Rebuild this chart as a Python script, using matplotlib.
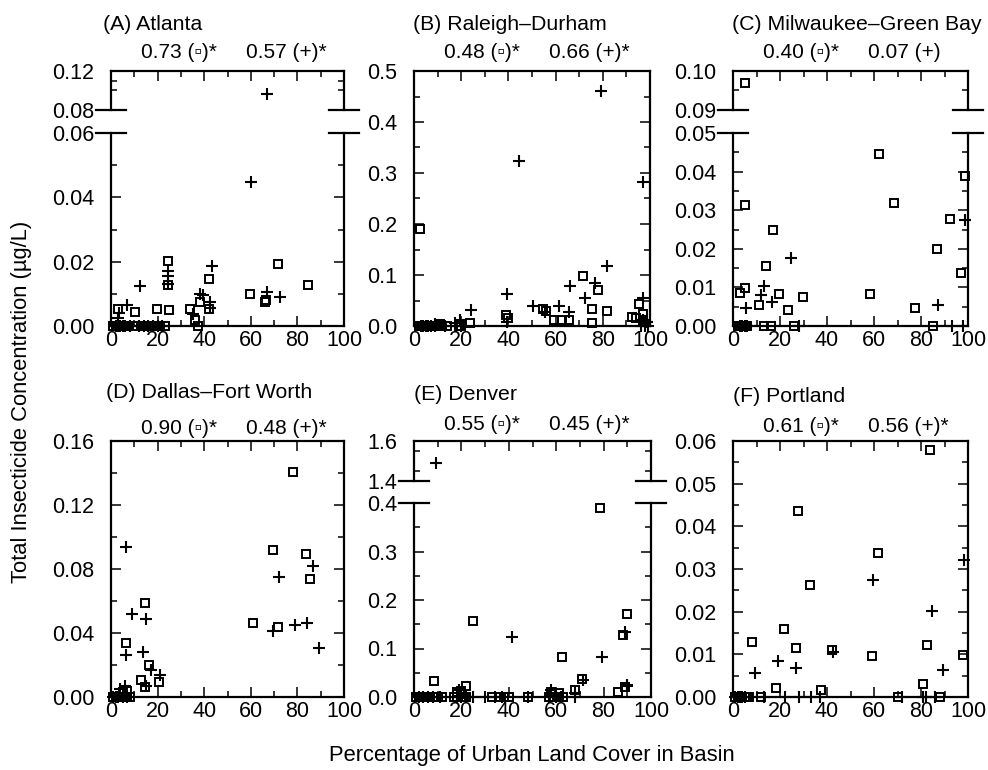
#Urban land cover vs. total insecticide concentration, six study areas
import matplotlib
matplotlib.use('Agg')
import matplotlib.pyplot as plt
from matplotlib import font_manager
from matplotlib.ticker import MultipleLocator, FixedLocator, FormatStrFormatter

TEXT_FONT = ['Liberation Sans', 'DejaVu Sans']
installed = {f.name for f in font_manager.fontManager.ttflist}
#narrow digits for the tick labels if the font is there
if 'Liberation Sans Narrow' in installed:
    TICK_FONT = ['Liberation Sans Narrow', 'DejaVu Sans']
else:
    TICK_FONT = TEXT_FONT
plt.rcParams['font.family'] = TEXT_FONT

#(A) Atlanta
atl_sq_x = [1, 2, 3, 4, 5, 6, 7, 11, 13, 15, 17, 19, 21, 23, 37.5, 36,
            2.9, 10.4, 19.7, 24.7, 34, 24.3, 24.3, 42.1, 38.2, 42.1, 59.6, 66, 66.5, 71.8, 84.6]
atl_sq_y = [0, 0, 0, 0, 0, 0, 0, 0, 0, 0, 0, 0, 0, 0, 0, 0.002,
            0.0054, 0.0044, 0.0054, 0.0051, 0.0054, 0.0202, 0.0126, 0.0147, 0.0075, 0.0054,
            0.0100, 0.0075, 0.0080, 0.0194, 0.0126]
atl_pl_x = [2, 3, 4, 5, 6, 8, 12, 14, 16, 18, 20, 22,
            66.8, 60.3, 12.6, 24.3, 24.3, 24.5, 43.2, 38.2, 39.5, 72.5, 66.8, 6.8, 3.3, 35.4, 42.5, 42.5, 3]
atl_pl_y = [0, 0, 0, 0, 0, 0, 0, 0, 0, 0, 0, 0,
            0.096, 0.0448, 0.0123, 0.0171, 0.0155, 0.013, 0.0185, 0.0100, 0.0095, 0.009, 0.0105,
            0.0064, 0.004, 0.0038, 0.0075, 0.0055, 0.0025]

#(B) Raleigh-Durham
ral_sq_x = [2, 3, 4, 5, 6, 7, 8, 10, 12, 14, 19, 20,
            2.4, 38.8, 54.5, 71.4, 78.1, 75.5, 81.6, 59.4, 62.5, 65.8, 23.6, 75.5, 92.2, 95.5,
            96.9, 97.2, 94, 40, 11, 56]
ral_sq_y = [0, 0, 0, 0, 0, 0, 0, 0, 0, 0, 0, 0,
            0.19, 0.021, 0.034, 0.099, 0.071, 0.034, 0.029, 0.012, 0.012, 0.012, 0.006, 0.006,
            0.018, 0.043, 0.024, 0.011, 0.015, 0.015, 0.004, 0.03]
ral_pl_x = [3, 4, 5, 6, 7, 9, 13, 18, 20, 96, 98, 99,
            79.1, 44.4, 97.2, 81.9, 39.2, 66.3, 72.4, 76.7, 24.3, 50.5, 55.4, 65.8, 96.9, 96.9,
            98.6, 19.4, 39.2, 17.5, 9, 61.5]
ral_pl_y = [0, 0, 0, 0, 0, 0, 0, 0, 0, 0, 0, 0,
            0.461, 0.323, 0.282, 0.118, 0.062, 0.078, 0.055, 0.084, 0.031, 0.039, 0.027, 0.027,
            0.054, 0.011, 0.008, 0.011, 0.008, 0.006, 0.004, 0.039]

#(C) Milwaukee-Green Bay
mil_sq_x = [2, 3, 4, 5, 6, 13, 16, 26, 85,
            5.3, 5, 2.8, 5, 17.1, 14.2, 11.1, 19.6, 23.6, 29.9, 62.2, 68.6, 58.3, 77.5, 86.8,
            92.2, 98.6, 97.2]
mil_sq_y = [0, 0, 0, 0, 0, 0, 0, 0, 0,
            0.0968, 0.0313, 0.0085, 0.0099, 0.0248, 0.0155, 0.0054, 0.0084, 0.0041, 0.0075,
            0.0445, 0.0319, 0.0082, 0.0047, 0.020, 0.0276, 0.0389, 0.0138]
mil_pl_x = [3, 4, 5, 6, 28, 93, 98,
            24.5, 13.4, 11.8, 16.4, 5.4, 87.2, 98.9]
mil_pl_y = [0, 0, 0, 0, 0, 0, 0,
            0.0177, 0.0103, 0.008, 0.0062, 0.0047, 0.0054, 0.0274]

#(D) Dallas-Fort Worth
dal_sq_x = [1, 2, 3, 4, 6, 7, 8, 5, 7,
            78.2, 69.6, 83.5, 85.6, 60.8, 71.8, 14.7, 6.4, 16.5, 12.8, 20.4, 14.7]
dal_sq_y = [0, 0, 0, 0, 0, 0, 0, 0.003, 0.004,
            0.1406, 0.0917, 0.0892, 0.074, 0.0465, 0.0437, 0.059, 0.034, 0.0198, 0.0104,
            0.0094, 0.0063]
dal_pl_x = [1, 2, 3, 5, 7, 4, 6,
            6.6, 72, 86.7, 78.9, 84.2, 69.6, 89.3, 9, 15.1, 6.6, 13.7, 17.1, 21.1, 15.1]
dal_pl_y = [0, 0, 0, 0, 0, 0.005, 0.007,
            0.094, 0.075, 0.082, 0.0448, 0.0465, 0.0412, 0.0306, 0.052, 0.049, 0.0265, 0.028,
            0.0167, 0.0135, 0.0067]

#(E) Denver
den_sq_x = [1, 2, 3, 4, 5, 6, 8, 10, 12, 17, 18, 20, 21, 22, 33, 36, 38, 40, 48, 57, 59,
            61, 63,
            78.5, 24.9, 89.7, 88.3, 62.5, 8.3, 22.1, 70.8, 67.9, 86.2, 89, 18, 20, 58, 61]
den_sq_y = [0, 0, 0, 0, 0, 0, 0, 0, 0, 0, 0, 0, 0, 0, 0, 0, 0, 0, 0, 0, 0, 0, 0,
            0.39, 0.156, 0.171, 0.1275, 0.083, 0.0326, 0.022, 0.038, 0.015, 0.0104, 0.02,
            0.01, 0.012, 0.01, 0.008]
den_pl_x = [2, 4, 6, 8, 11, 18, 20, 22, 25, 30, 34, 37, 48, 57, 60, 62, 68,
            9.2, 41.5, 79.2, 89, 89.7, 71.4, 67.9, 19, 21, 58, 90]
den_pl_y = [0, 0, 0, 0, 0, 0, 0, 0, 0, 0, 0, 0, 0, 0, 0, 0, 0,
            1.491, 0.1227, 0.083, 0.135, 0.022, 0.036, 0.008, 0.015, 0.008, 0.014, 0.025]

#(F) Portland
por_sq_x = [1, 2, 3, 4, 5, 6, 7, 12, 70, 88,
            83.9, 27.7, 61.5, 32.7, 21.6, 8.1, 26.6, 42, 59, 82.5, 97.7, 18.5, 37.3, 80.8]
por_sq_y = [0, 0, 0, 0, 0, 0, 0, 0, 0, 0,
            0.058, 0.0437, 0.0337, 0.0262, 0.0159, 0.0128, 0.0116, 0.011, 0.0095, 0.0121,
            0.0098, 0.0022, 0.0016, 0.0031]
por_pl_x = [1, 2, 3, 4, 5, 13, 22, 28, 33, 37, 72, 81, 82, 86,
            98.2, 59.7, 84.6, 19.2, 27, 42.7, 9.2, 89.3]
por_pl_y = [0, 0, 0, 0, 0, 0, 0, 0, 0, 0, 0, 0, 0, 0,
            0.032, 0.0275, 0.0202, 0.0085, 0.0067, 0.0106, 0.0057, 0.0063]

titles = ['(A) Atlanta', '(B) Raleigh\u2013Durham', '(C) Milwaukee\u2013Green Bay',
          '(D) Dallas\u2013Fort Worth', '(E) Denver', '(F) Portland']
sq_stats = ['0.73 (\u25ab)*', '0.48 (\u25ab)*', '0.40 (\u25ab)*',
            '0.90 (\u25ab)*', '0.55 (\u25ab)*', '0.61 (\u25ab)*']
pl_stats = ['0.57 (+)*', '0.66 (+)*', '0.07 (+)',
            '0.48 (+)*', '0.45 (+)*', '0.56 (+)*']

W, H = 988, 770
fig = plt.figure(figsize=(W / 100, H / 100), dpi=100)


def new_ax(l, r, t, b):
    return fig.add_axes([l / W, 1 - b / H, (r - l) / W, (b - t) / H])


def style(ax, top=True, bottom=True):
    for s in ax.spines.values():
        s.set_linewidth(1.6)
    ax.spines['top'].set_visible(top)
    ax.spines['bottom'].set_visible(bottom)
    ax.set_xlim(0, 100)
    ax.xaxis.set_major_locator(MultipleLocator(20))
    ax.xaxis.set_minor_locator(MultipleLocator(10))
    ax.tick_params(which='both', direction='in', left=True, right=True,
                   top=top, bottom=bottom, labelbottom=bottom, width=1.1,
                   labelsize=15.5, labelfontfamily=TICK_FONT)
    ax.tick_params(which='major', length=7)
    ax.tick_params(which='minor', length=4.5)
    ax.tick_params(axis='y', pad=12)
    ax.tick_params(axis='x', pad=3)


def scatter(ax, xs, ys, lo, hi, marker):
    px = [x for x, y in zip(xs, ys) if lo <= y <= hi]
    py = [y for x, y in zip(xs, ys) if lo <= y <= hi]
    if marker == 's':
        ax.plot(px, py, 's', ms=5.4, mfc='none', mec='k', mew=1.4, clip_on=False)
    else:
        ax.plot(px, py, '+', ms=8.5, mec='k', mew=1.5, clip_on=False)


def break_marks(ax, y, width_px):
    d = 15 / width_px
    for x0 in (0, 1):
        ax.plot([x0 - d, x0 + d], [y, y], color='k', lw=1.6,
                transform=ax.transAxes, clip_on=False)


# panel layout in pixels: box = left, right, top, bottom
panels = [
    dict(box=(111, 344, 71, 326), brk=(110, 133), up=(0.08, 0.12), lo=(0, 0.06),
         up_minor=[0.10, 0.11], maj=0.02, mnr=0.01, fmt='%.2f',
         data=(atl_sq_x, atl_sq_y, atl_pl_x, atl_pl_y), tpos=(103, 25), spos=53),
    dict(box=(414, 650, 71, 326), lo=(0, 0.5), maj=0.1, mnr=0.05, fmt='%.1f',
         data=(ral_sq_x, ral_sq_y, ral_pl_x, ral_pl_y), tpos=(413, 25), spos=53),
    dict(box=(733, 968, 71, 326), brk=(110, 133), up=(0.09, 0.10), lo=(0, 0.05),
         up_minor=[0.095], maj=0.01, mnr=0.005, fmt='%.2f',
         data=(mil_sq_x, mil_sq_y, mil_pl_x, mil_pl_y), tpos=(732, 25), spos=53),
    dict(box=(111, 344, 441, 697), lo=(0, 0.16), maj=0.04, mnr=0.02, fmt='%.2f',
         data=(dal_sq_x, dal_sq_y, dal_pl_x, dal_pl_y), tpos=(106, 393), spos=429),
    dict(box=(414, 651, 441, 697), brk=(481, 503), up=(1.4, 1.6), lo=(0, 0.4),
         up_minor=[1.45, 1.55], maj=0.1, mnr=0.05, fmt='%.1f',
         data=(den_sq_x, den_sq_y, den_pl_x, den_pl_y), tpos=(414, 395), spos=425),
    dict(box=(733, 968, 441, 697), lo=(0, 0.06), maj=0.01, mnr=0.005, fmt='%.2f',
         data=(por_sq_x, por_sq_y, por_pl_x, por_pl_y), tpos=(733, 397), spos=427),
]

for i, p in enumerate(panels):
    l, r, t, b = p['box']
    sx, sy, qx, qy = p['data']
    lo0, lo1 = p['lo']
    if 'brk' in p:
        b1, t2 = p['brk']
        ax_u = new_ax(l, r, t, b1)
        ax_l = new_ax(l, r, t2, b)
        # upper part of the broken axis
        style(ax_u, top=True, bottom=False)
        ax_u.set_ylim(*p['up'])
        ax_u.yaxis.set_major_locator(FixedLocator(list(p['up'])))
        ax_u.yaxis.set_minor_locator(FixedLocator(p['up_minor']))
        ax_u.yaxis.set_major_formatter(FormatStrFormatter(p['fmt']))
        ax_u.tick_params(axis='y', which='major', length=0)
        scatter(ax_u, sx, sy, p['up'][0], p['up'][1], 's')
        scatter(ax_u, qx, qy, p['up'][0], p['up'][1], '+')
        break_marks(ax_u, 0, r - l)
        # lower part
        ax = ax_l
        style(ax, top=False, bottom=True)
        break_marks(ax, 1, r - l)
    else:
        ax = new_ax(l, r, t, b)
        style(ax)
    ax.set_ylim(lo0, lo1)
    ax.yaxis.set_major_locator(MultipleLocator(p['maj']))
    ax.yaxis.set_minor_locator(MultipleLocator(p['mnr']))
    ax.yaxis.set_major_formatter(FormatStrFormatter(p['fmt']))
    scatter(ax, sx, sy, lo0, lo1, 's')
    scatter(ax, qx, qy, lo0, lo1, '+')

    tx, ty = p['tpos']
    fig.text(tx / W, 1 - ty / H, titles[i], fontsize=15.3, ha='left', va='center')
    fig.text((l + 30) / W, 1 - p['spos'] / H, sq_stats[i], fontsize=15, ha='left', va='center')
    fig.text((l + 135) / W, 1 - p['spos'] / H, pl_stats[i], fontsize=15, ha='left', va='center')

fig.text(22 / W, 1 - 402 / H, 'Total Insecticide Concentration (\u00b5g/L)', fontsize=15.8,
         rotation=90, ha='center', va='center')
fig.text(532 / W, 1 - 756 / H, 'Percentage of Urban Land Cover in Basin', fontsize=15.8,
         ha='center', va='center')

fig.savefig('out.png', dpi=100)
